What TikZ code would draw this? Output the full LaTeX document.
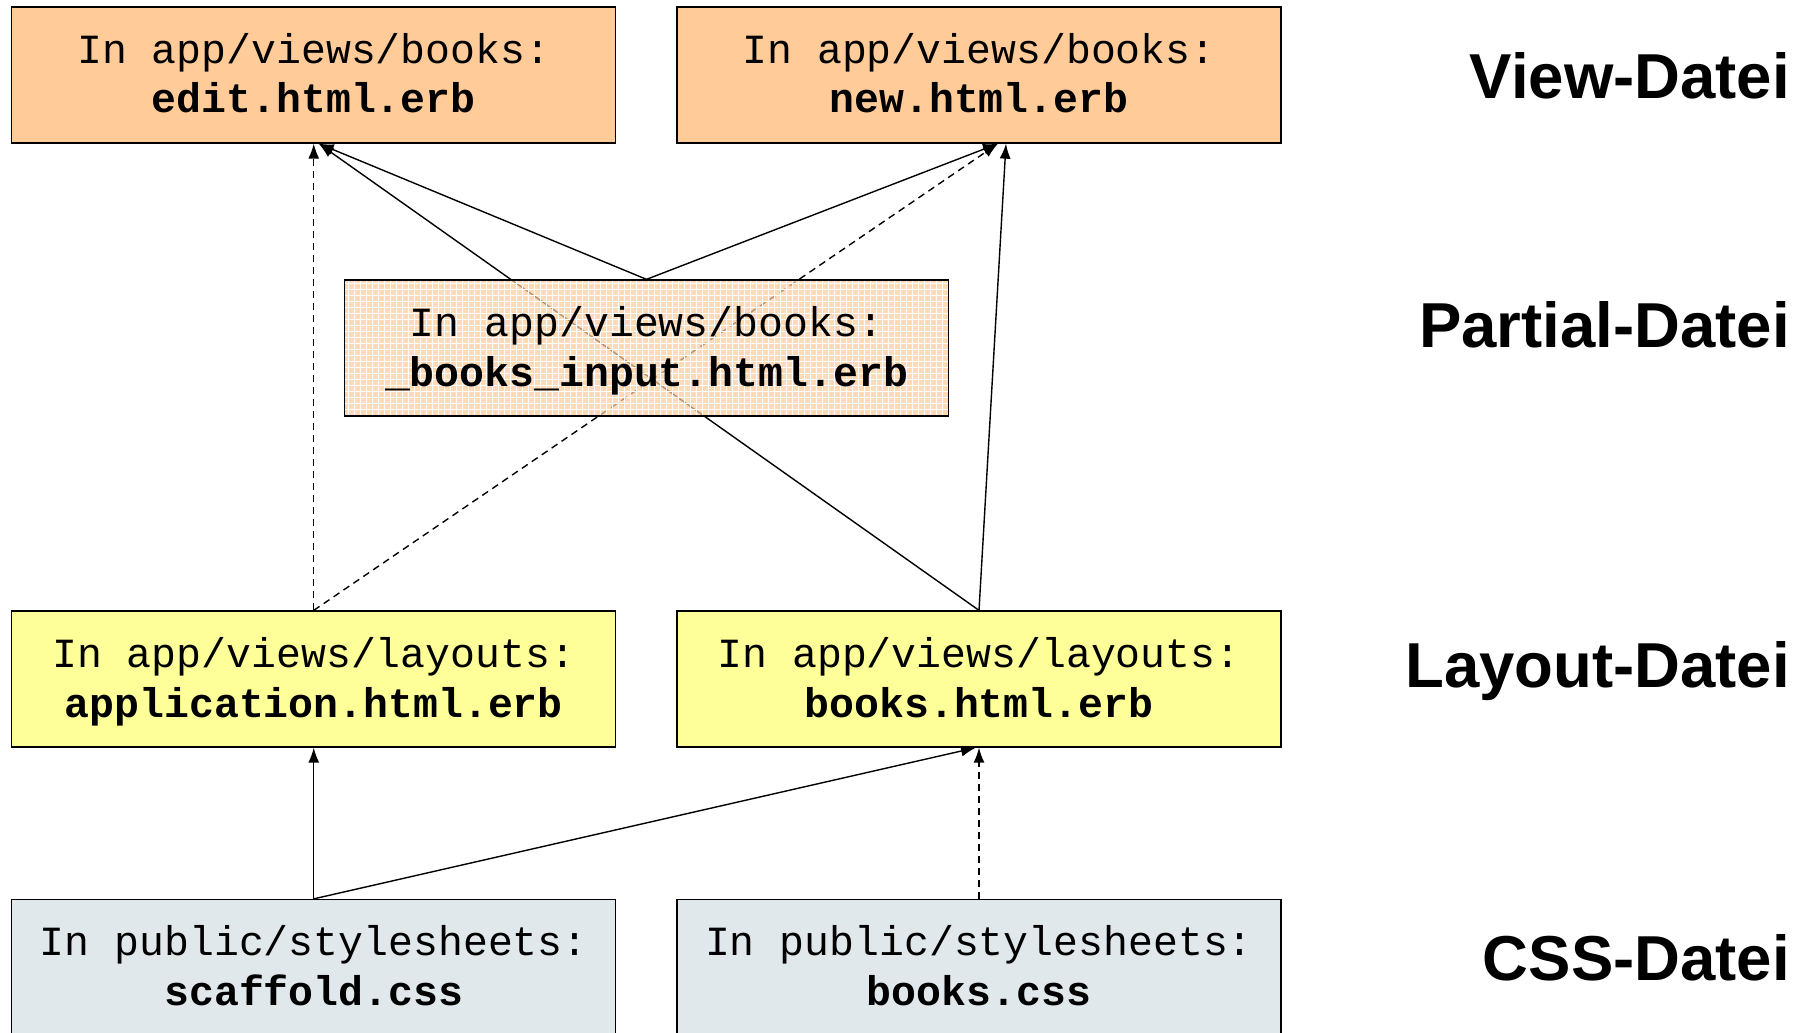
\documentclass[tikz,border=0pt]{standalone}
\usepackage{fontspec}
\setmainfont{Liberation Sans}
\newfontfamily\boxmono{Liberation Mono}
\usetikzlibrary{arrows.meta,patterns.meta}
\definecolor{viewc}{RGB}{255,204,153}
\definecolor{layc}{RGB}{255,255,153}
\definecolor{cssc}{RGB}{224,232,235}
\pgfdeclarelayer{bg}
\pgfsetlayers{bg,main}
\newcommand\lnstrut{\rule[-12pt]{0pt}{50pt}}
\newcommand\twoln[2]{\lnstrut #1\\\lnstrut\textbf{#2}}
\tikzset{
  filebox/.style={draw=black, line width=1.3pt, rectangle, minimum width=604pt, minimum height=136pt,
    inner sep=0pt, align=center, font=\boxmono\fontsize{41.5}{50}\selectfont},
  viewbox/.style={filebox, fill=viewc},
  partbox/.style={filebox, fill=viewc, fill opacity=0.72, text opacity=1,
    postaction={draw=none, pattern={Hatch[distance=6pt,line width=0.8pt]}, pattern color=white, fill opacity=0.2},
    postaction={draw=black, fill=none}},
  laybox/.style={filebox, fill=layc},
  cssbox/.style={filebox, fill=cssc},
  lvl/.style={anchor=east, inner sep=0pt, font=\bfseries\fontsize{63.5}{70}\selectfont},
  conn/.style={line width=1.4pt, -{Latex[length=15pt,width=11pt]}},
  dconn/.style={conn, dash pattern=on 7pt off 5pt},
}
\begin{document}
\begin{tikzpicture}[x=1pt, y=-1pt]
\useasboundingbox (0,0) rectangle (1805,1033);
\clip (0,0) rectangle (1805,1033);

\node[viewbox] (edit) at (313.75,75) {\twoln{In app/views/books:}{edit.html.erb}};
\node[viewbox] (new) at (979,75) {\twoln{In app/views/books:}{new.html.erb}};
\node[partbox] (partial) at (646.5,348) {\twoln{In app/views/books:}{\_books\_input.html.erb}};
\node[laybox] (app) at (313.75,679) {\twoln{In app/views/layouts:}{application.html.erb}};
\node[laybox] (books) at (979,679) {\twoln{In app/views/layouts:}{books.html.erb}};
\node[cssbox] (scaffold) at (313.75,967.5) {\twoln{In public/stylesheets:}{scaffold.css}};
\node[cssbox] (bookscss) at (979,967.5) {\twoln{In public/stylesheets:}{books.css}};

\node[lvl] (lview) at (1790,76) {View-Datei};
\node[lvl] (lpart) at (1790,325) {Partial-Datei};
\node[lvl] (llay) at (1790,671) {Layout-Datei};
\node[lvl] (lcss) at (1790,958) {CSS-Datei};

\begin{pgfonlayer}{bg}
\draw[dconn] (app.north) -- (edit.south);
\draw[conn] (partial.north) -- ([xshift=5pt]edit.south);
\draw[conn] (books.north) -- ([xshift=5pt]edit.south);
\draw[conn] (partial.north) -- ([xshift=19pt]new.south);
\draw[dconn] (app.north) -- ([xshift=19pt]new.south);
\draw[conn] (books.north) -- ([xshift=27pt]new.south);
\draw[conn] (scaffold.north) -- (app.south);
\draw[conn] (scaffold.north) -- ([xshift=-3pt]books.south);
\draw[dconn] (bookscss.north) -- (books.south);
\end{pgfonlayer}
\end{tikzpicture}
\end{document}
